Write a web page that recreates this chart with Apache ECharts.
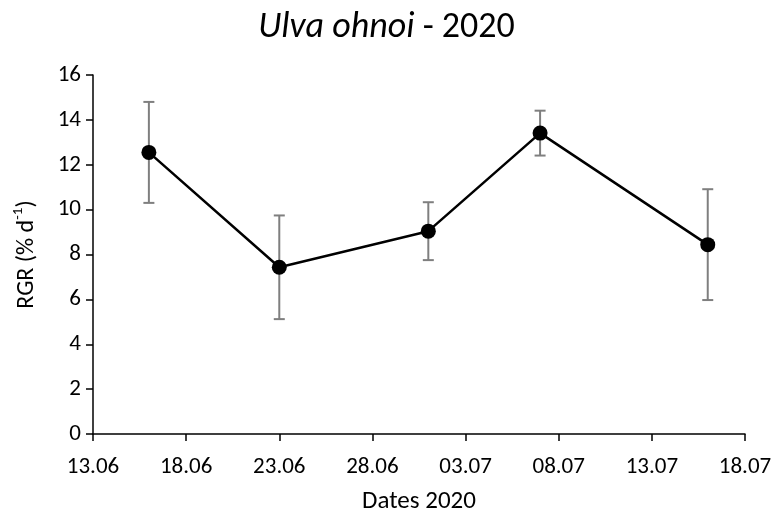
<!DOCTYPE html>
<html>
<head>
<meta charset="utf-8">
<script src="https://cdn.jsdelivr.net/npm/echarts@6/dist/echarts.min.js"></script>
<style>
  html, body { margin: 0; padding: 0; background: #fff; }
  #chart { width: 773px; height: 517px; }
</style>
</head>
<body>
<div id="chart"></div>
<script>
// Sampling dates (2020) and relative growth rate, % per day
const dates = ['2020-06-16', '2020-06-23', '2020-07-01', '2020-07-07', '2020-07-16'];
const rgr = [12.55, 7.43, 9.04, 13.41, 8.44];
const rgrErr = [2.25, 2.31, 1.29, 1.00, 2.47];

// X axis runs from 13.06 to 18.07 in 5-day steps
const axisStart = '2020-06-13';
const axisEnd = '2020-07-18';
const dayStep = 5;
const yTicks = [0, 16, 2];

const DAY = 86400000;
const toDay = s => (Date.parse(s + 'T00:00:00Z') - Date.parse(axisStart + 'T00:00:00Z')) / DAY;
const fmtDay = d => {
  const t = new Date(Date.parse(axisStart + 'T00:00:00Z') + d * DAY);
  const dd = String(t.getUTCDate()).padStart(2, '0');
  const mm = String(t.getUTCMonth() + 1).padStart(2, '0');
  return dd + '.' + mm;
};

const points = dates.map((d, i) => [toDay(d), rgr[i]]);
const bars = dates.map((d, i) => [toDay(d), rgr[i] - rgrErr[i], rgr[i] + rgrErr[i]]);

const FONT = 'Carlito, Lato, "Open Sans", sans-serif';
const chart = echarts.init(document.getElementById('chart'));

chart.setOption({
  animation: false,
  title: {
    text: '{i|Ulva ohnoi}{n| - 2020}',
    left: 'center',
    top: 5,
    textStyle: {
      rich: {
        i: { fontFamily: FONT, fontStyle: 'italic', fontWeight: 'normal', fontSize: 36, color: '#000' },
        n: { fontFamily: FONT, fontWeight: 'normal', fontSize: 36, color: '#000' }
      }
    }
  },
  grid: { left: 93, right: 28, top: 75, bottom: 83, containLabel: false, outerBoundsMode: 'none' },
  xAxis: {
    type: 'value',
    min: 0,
    max: toDay(axisEnd),
    interval: dayStep,
    name: 'Dates 2020',
    nameLocation: 'middle',
    nameGap: 55,
    nameTextStyle: { fontFamily: FONT, fontSize: 25, color: '#000' },
    axisLine: { lineStyle: { color: '#000', width: 1.5 } },
    axisTick: { show: true, length: 7, lineStyle: { color: '#000', width: 1.5 } },
    axisLabel: {
      formatter: v => fmtDay(v),
      fontFamily: FONT, fontSize: 23, color: '#000', margin: 22
    },
    splitLine: { show: false }
  },
  yAxis: {
    type: 'value',
    min: yTicks[0],
    max: yTicks[1],
    interval: yTicks[2],
    name: '{a|RGR (% d}{s|-1}{a|)}',
    nameLocation: 'middle',
    nameGap: 54,
    nameTextStyle: {
      rich: {
        a: { fontFamily: FONT, fontSize: 24, color: '#000', lineHeight: 28, verticalAlign: 'bottom' },
        s: { fontFamily: FONT, fontSize: 15, color: '#000', lineHeight: 28, verticalAlign: 'top' }
      }
    },
    axisLine: { show: true, lineStyle: { color: '#000', width: 1.5 } },
    axisTick: { show: true, length: 7, lineStyle: { color: '#000', width: 1.5 } },
    axisLabel: { fontFamily: FONT, fontSize: 23, color: '#000', margin: 12 },
    splitLine: { show: false }
  },
  series: [
    {
      type: 'custom',
      data: bars,
      z: 1,
      renderItem: (params, api) => {
        const x = api.value(0);
        const lo = api.coord([x, api.value(1)]);
        const hi = api.coord([x, api.value(2)]);
        const cap = 5.5;
        const style = { stroke: '#7f7f7f', lineWidth: 2 };
        return {
          type: 'group',
          children: [
            { type: 'line', shape: { x1: lo[0], y1: lo[1], x2: hi[0], y2: hi[1] }, style },
            { type: 'line', shape: { x1: lo[0] - cap, y1: lo[1], x2: lo[0] + cap, y2: lo[1] }, style },
            { type: 'line', shape: { x1: hi[0] - cap, y1: hi[1], x2: hi[0] + cap, y2: hi[1] }, style }
          ]
        };
      }
    },
    {
      type: 'line',
      data: points,
      z: 2,
      symbol: 'circle',
      symbolSize: 15,
      lineStyle: { color: '#000', width: 2.5 },
      itemStyle: { color: '#000' }
    }
  ]
});
</script>
</body>
</html>
